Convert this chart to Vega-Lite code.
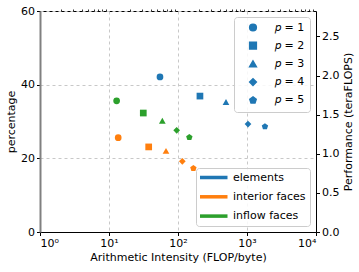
{
  "$schema": "https://vega.github.io/schema/vega-lite/v6.json",
  "width": 276,
  "height": 221,
  "autosize": "none",
  "padding": {"left": 40, "top": 11, "right": 43, "bottom": 40},
  "config": {
    "font": "DejaVu Sans",
    "view": {"stroke": "black", "strokeWidth": 1},
    "axis": {
      "labelFontSize": 11,
      "titleFontSize": 11,
      "labelColor": "black",
      "titleColor": "black",
      "titleFontWeight": "normal",
      "tickColor": "black",
      "domainColor": "black",
      "tickSize": 3.5,
      "labelPadding": 2,
      "gridDash": [3, 3],
      "gridColor": "#c8c8c8"
    },
    "legend": {
      "labelFontSize": 11,
      "labelColor": "black",
      "fillColor": "rgba(255,255,255,0.85)",
      "strokeColor": "#cccccc",
      "cornerRadius": 3,
      "padding": 5,
      "offset": 6
    }
  },
  "datasets": {
    "main": [
      {"kernel": "elements", "p": "1", "intensity": 54.8, "percentage": 42.1},
      {"kernel": "elements", "p": "2", "intensity": 208, "percentage": 36.9},
      {"kernel": "elements", "p": "3", "intensity": 496, "percentage": 35.3},
      {"kernel": "elements", "p": "4", "intensity": 1034, "percentage": 29.3},
      {"kernel": "elements", "p": "5", "intensity": 1820, "percentage": 28.6},
      {"kernel": "interior faces", "p": "1", "intensity": 13.6, "percentage": 25.6},
      {"kernel": "interior faces", "p": "2", "intensity": 37.6, "percentage": 23.1},
      {"kernel": "interior faces", "p": "3", "intensity": 67, "percentage": 22.0},
      {"kernel": "interior faces", "p": "4", "intensity": 115.5, "percentage": 19.2},
      {"kernel": "interior faces", "p": "5", "intensity": 167, "percentage": 17.3},
      {"kernel": "inflow faces", "p": "1", "intensity": 12.9, "percentage": 35.6},
      {"kernel": "inflow faces", "p": "2", "intensity": 31.4, "percentage": 32.3},
      {"kernel": "inflow faces", "p": "3", "intensity": 59.3, "percentage": 30.2},
      {"kernel": "inflow faces", "p": "4", "intensity": 95.7, "percentage": 27.6},
      {"kernel": "inflow faces", "p": "5", "intensity": 146, "percentage": 25.7}
    ],
    "perf": [{"tflops": 0}, {"tflops": 2.825}]
  },
  "layer": [
    {
      "data": {"name": "main"},
      "mark": {"type": "point", "filled": true, "opacity": 1, "size": 45, "color": "#1f77b4"},
      "encoding": {
        "x": {
          "field": "intensity",
          "type": "quantitative",
          "scale": {"type": "log", "domain": [1, 10000]},
          "axis": {
            "title": "Arithmetic Intensity (FLOP/byte)",
            "values": [1, 10, 100, 1000, 10000],
            "labelExpr": "'10' + ['⁰','¹','²','³','⁴'][round(log(datum.value)/LN10)]",
            "grid": true,
            "titlePadding": 3
          }
        },
        "y": {
          "field": "percentage",
          "type": "quantitative",
          "scale": {"domain": [0, 60], "nice": false},
          "axis": {
            "title": "percentage",
            "values": [0, 20, 40, 60],
            "grid": true,
            "domainColor": "#808080",
            "domainWidth": 2,
            "titlePadding": 4
          }
        },
        "color": {
          "field": "kernel",
          "type": "nominal",
          "scale": {"domain": ["elements", "interior faces", "inflow faces"], "range": ["#1f77b4", "#ff7f0e", "#2ca02c"]},
          "legend": {
            "title": null,
            "orient": "bottom-right",
            "symbolType": "M-1,-0.32L4,-0.32L4,0.32L-1,0.32Z",
            "symbolSize": 121,
            "symbolStrokeWidth": 0,
            "rowPadding": 7.3,
            "labelOffset": 22,
            "padding": 4
          }
        },
        "shape": {
          "field": "p",
          "type": "nominal",
          "scale": {
            "domain": ["1", "2", "3", "4", "5"],
            "range": ["circle", "square", "triangle-up", "diamond", "M0,-1L0.951,-0.309L0.588,0.809L-0.588,0.809L-0.951,-0.309Z"]
          },
          "legend": {
            "title": null,
            "orient": "top-right",
            "labelExpr": "'𝑝 = ' + datum.label",
            "symbolFillColor": "#1f77b4",
            "symbolStrokeColor": "#1f77b4",
            "symbolSize": 45,
            "symbolOffset": 8.5,
            "rowPadding": 5.2,
            "labelOffset": 16.5
          }
        }
      }
    },
    {
      "data": {"name": "main"},
      "mark": {"type": "point", "opacity": 0},
      "encoding": {
        "x": {
          "field": "intensity",
          "type": "quantitative",
          "axis": {
            "values": [2, 3, 4, 5, 6, 7, 8, 9, 20, 30, 40, 50, 60, 70, 80, 90, 200, 300, 400, 500, 600, 700, 800, 900, 2000, 3000, 4000, 5000, 6000, 7000, 8000, 9000],
            "labels": false,
            "title": null,
            "domain": false,
            "grid": false,
            "tickSize": 2,
            "tickWidth": 0.8
          }
        }
      }
    },
    {
      "data": {"name": "perf"},
      "mark": {"type": "point", "opacity": 0},
      "encoding": {
        "y": {
          "field": "tflops",
          "type": "quantitative",
          "scale": {"domain": [0, 2.825], "nice": false, "zero": true},
          "axis": {
            "orient": "right",
            "title": "Performance (teraFLOPS)",
            "titleAngle": 270,
            "titleBaseline": "top",
            "values": [0, 0.5, 1, 1.5, 2, 2.5],
            "format": ".1f",
            "grid": false,
            "titlePadding": 4
          }
        }
      }
    }
  ],
  "resolve": {"scale": {"y": "independent"}, "axis": {"x": "independent"}}
}
